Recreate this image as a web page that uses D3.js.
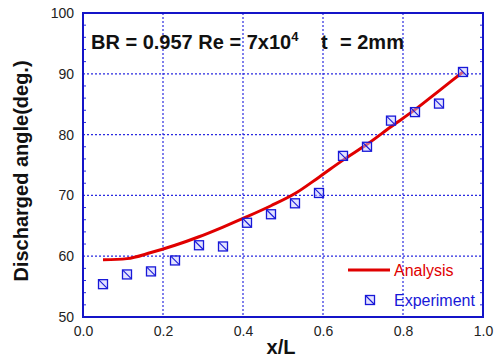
<!DOCTYPE html>
<html>
<head>
<meta charset="UTF-8">
<script src="https://d3js.org/d3.v7.min.js"></script>
<style>
    body { margin: 0; background: #fff; font-family: "Liberation Sans", Arial, sans-serif; }
    .tick text { font-size: 14px; fill: #222; font-family: "Liberation Sans", Arial, sans-serif; }
    .grid line { stroke: #2a2ae0; stroke-width: 1.2; stroke-dasharray: 2,2; }
</style>
</head>
<body>
<svg width="495" height="361"></svg>
<script>
    // experiment points
    const expX = [0.05, 0.11, 0.17, 0.23, 0.29, 0.35, 0.41, 0.47, 0.53, 0.59, 0.65, 0.71, 0.77, 0.83, 0.89, 0.95];
    const expY = [55.4, 57.0, 57.5, 59.3, 61.8, 61.6, 65.5, 66.9, 68.7, 70.4, 76.5, 78.0, 82.3, 83.7, 85.1, 90.3];
    // analysis curve
    const anaX = [0.05, 0.11, 0.17, 0.23, 0.29, 0.35, 0.41, 0.47, 0.53, 0.59, 0.65, 0.71, 0.77, 0.83, 0.89, 0.95];
    const anaY = [59.4, 59.6, 60.6, 61.8, 63.2, 64.8, 66.5, 68.3, 70.3, 73.0, 75.8, 78.4, 81.3, 84.1, 87.2, 90.3];
    const xTicks = [0, 0.2, 0.4, 0.6, 0.8, 1.0];
    const yTicks = [50, 60, 70, 80, 90, 100];

    const pLeft = 83, pRight = 483, pTop = 13, pBottom = 317;
    const svg = d3.select("svg");
    const x = d3.scaleLinear().domain([0, 1]).range([pLeft, pRight]);
    const y = d3.scaleLinear().domain([50, 100]).range([pBottom, pTop]);

    // grid
    svg.append("g").attr("class", "grid")
        .selectAll("line").data(xTicks.slice(1, -1)).enter().append("line")
        .attr("x1", d => x(d)).attr("x2", d => x(d)).attr("y1", pTop).attr("y2", pBottom);
    svg.append("g").attr("class", "grid")
        .selectAll("line").data(yTicks.slice(1, -1)).enter().append("line")
        .attr("y1", d => y(d)).attr("y2", d => y(d)).attr("x1", pLeft).attr("x2", pRight);

    // axes (labels only, border drawn separately)
    const xAxis = svg.append("g").attr("transform", `translate(0,${pBottom})`)
        .call(d3.axisBottom(x).tickValues(xTicks).tickFormat(d3.format(".1f")).tickSize(0).tickPadding(9));
    const yAxis = svg.append("g").attr("transform", `translate(${pLeft},0)`)
        .call(d3.axisLeft(y).tickValues(yTicks).tickSize(0).tickPadding(9));
    xAxis.select(".domain").remove();
    yAxis.select(".domain").remove();

    // minor ticks inside
    const minorY = d3.range(52, 100, 2).filter(v => v % 10 != 0);
    svg.append("g").selectAll("line").data(minorY).enter().append("line")
        .attr("x1", pLeft).attr("x2", pLeft + 3).attr("y1", d => y(d)).attr("y2", d => y(d))
        .attr("stroke", "#2a2ae0").attr("stroke-width", 1);
    svg.append("g").selectAll("line").data(minorY).enter().append("line")
        .attr("x1", pRight).attr("x2", pRight - 3).attr("y1", d => y(d)).attr("y2", d => y(d))
        .attr("stroke", "#2a2ae0").attr("stroke-width", 1);

    // frame
    svg.append("rect").attr("x", pLeft).attr("y", pTop)
        .attr("width", pRight - pLeft).attr("height", pBottom - pTop)
        .attr("fill", "none").attr("stroke", "#1414c8").attr("stroke-width", 2);

    // analysis line
    const line = d3.line().x(d => x(d[0])).y(d => y(d[1])).curve(d3.curveMonotoneX);
    svg.append("path").datum(d3.zip(anaX, anaY))
        .attr("d", line).attr("fill", "none").attr("stroke", "#e00000").attr("stroke-width", 3);

    // experiment markers
    function marker(g) {
        g.append("rect").attr("x", -4.5).attr("y", -4.5).attr("width", 9).attr("height", 9)
            .attr("fill", "#c8c8ff").attr("fill-opacity", 0.5).attr("stroke", "#1818d8").attr("stroke-width", 1.3);
        g.append("line").attr("x1", -4).attr("y1", -4).attr("x2", 4).attr("y2", 4)
            .attr("stroke", "#1818d8").attr("stroke-width", 1.1);
    }
    svg.append("g").selectAll("g").data(d3.zip(expX, expY)).enter().append("g")
        .attr("transform", d => `translate(${x(d[0])},${y(d[1])})`)
        .each(function () { marker(d3.select(this)); });

    // legend
    svg.append("line").attr("x1", 348).attr("x2", 390).attr("y1", 270).attr("y2", 270)
        .attr("stroke", "#e00000").attr("stroke-width", 3);
    svg.append("text").attr("x", 394).attr("y", 276).attr("font-size", 16).attr("fill", "#e00000").text("Analysis");
    marker(svg.append("g").attr("transform", "translate(370,300)"));
    svg.append("text").attr("x", 394).attr("y", 306).attr("font-size", 16).attr("fill", "#1818d8").text("Experiment");

    // title
    const t = svg.append("text").attr("x", 91).attr("y", 49).attr("font-size", 20)
        .attr("font-weight", "bold").attr("fill", "#111");
    t.append("tspan").text("BR = 0.957 Re = 7x10");
    t.append("tspan").attr("dy", -8).attr("font-size", 13).text("4");
    t.append("tspan").attr("x", 321).attr("dy", 8).text("t");
    t.append("tspan").attr("x", 340).text("= 2mm");

    // axis titles
    svg.append("text").attr("x", 281).attr("y", 354).attr("text-anchor", "middle")
        .attr("font-size", 20).attr("font-weight", "bold").attr("fill", "#111").text("x/L");
    svg.append("text").attr("transform", `translate(28,171) rotate(-90)`)
        .attr("text-anchor", "middle").attr("font-size", 20).attr("font-weight", "bold")
        .attr("fill", "#111").text("Discharged angle(deg.)");
</script>
</body>
</html>
